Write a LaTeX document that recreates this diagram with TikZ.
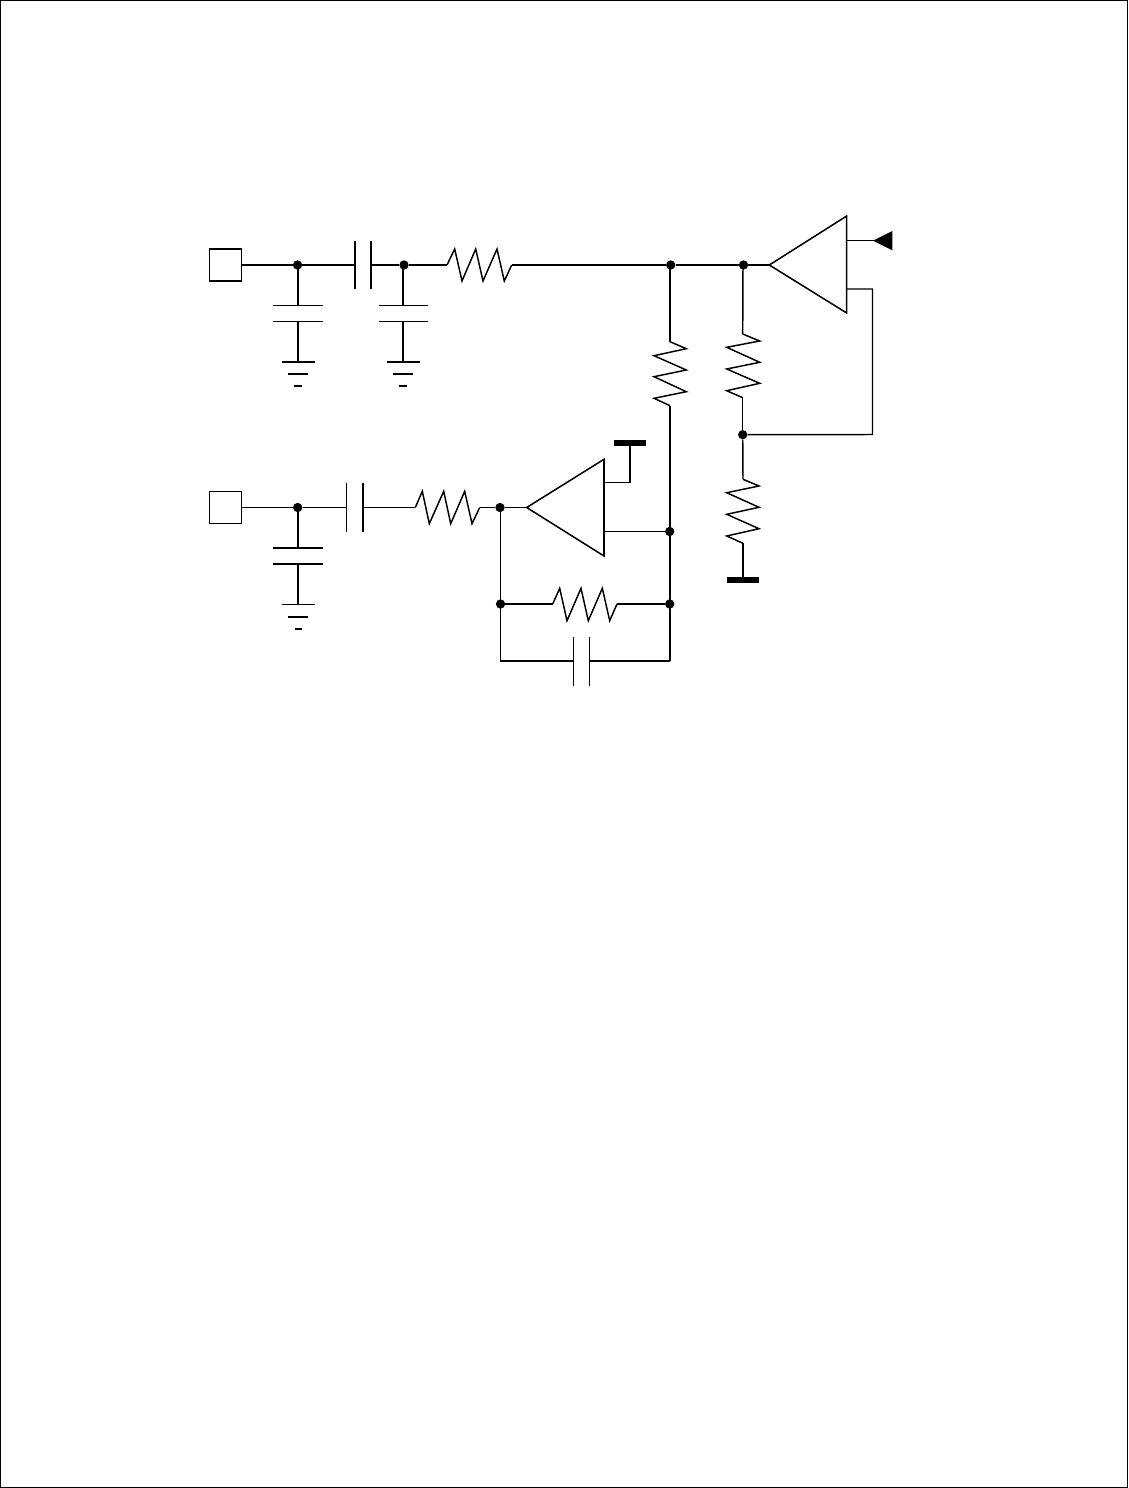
\documentclass[tikz,border=0pt]{standalone}
\tikzset{
  wire/.style={line width=1.1pt,line cap=butt,line join=miter},
  thinwire/.style={line width=0.9pt},
  zig/.style={line width=1.1pt,line join=miter},
  dot/.style={circle,fill=black,draw=none,inner sep=0pt,minimum size=7pt},
  padbox/.style={draw=black,line width=1.2pt,fill=white,inner sep=0pt,minimum size=24.2pt},
  amp/.style={line width=1.15pt,line join=miter},
  railbar/.style={line width=4.4pt},
  gndb/.style={line width=1.4pt},
  gndc/.style={line width=0.9pt},
}
\begin{document}
\begin{tikzpicture}[x=0.75pt,y=-0.75pt]
\useasboundingbox (0,0) rectangle (1128,1488);
\draw[line width=1.1pt] (0.5,0.5) rectangle (1127.5,1487.5);

% pads and junctions
\node[padbox] (p1) at (225.5,265) {};
\node[padbox] (p2) at (225.5,507.5) {};
\node[dot] (j1) at (297.5,265) {};
\node[dot] (j2) at (404,265) {};
\node[dot] (j3) at (670.7,265) {};
\node[dot] (j4) at (743.5,265) {};
\node[dot] (j5) at (742.7,434.7) {};
\node[dot] (j6) at (297.7,507.5) {};
\node[dot] (j7) at (500,507.5) {};
\node[dot] (j8) at (500.5,604) {};
\node[dot] (j9) at (669.7,531.5) {};
\node[dot] (j10) at (669.7,604) {};

% series capacitor C1
\coordinate (c1a) at (355,265); \coordinate (c1b) at (371,265);
\draw[wire] (p1.east) -- (j1) -- (c1a);
\draw[wire] (355,240.5) -- (355,289);
\draw[wire] (371,240.5) -- (371,289);
\draw[wire] (c1b) -- (j2);

% series resistor R1
\coordinate (r1a) at (447,265); \coordinate (r1b) at (511.7,265);
\draw[wire] (j2) -- (r1a);
\draw[zig] (r1a) -- (454.7,249) -- (462,281) -- (475.7,249) -- (483,281) -- (497,249) -- (504.3,281) -- (r1b);
\draw[line width=1.4pt] (r1b) -- (j3) -- (j4);

% shunt cap 1
\coordinate (s1) at (298,305.5); \coordinate (s2) at (298,321.5); \coordinate (g1) at (298,362);
\draw[wire] (298,265) -- (s1);
\draw[wire] (273,305.5) -- (323,305.5);
\draw[wire] (273,321.5) -- (323,321.5);
\draw[wire] (s2) -- (g1);
\draw[gndb] (281.5,362) -- (315,362);
\draw[gndb] (288,374) -- (308,374);
\draw[gndc] (294,386) -- (302,386);

% shunt cap 2
\coordinate (s3) at (403,305.5); \coordinate (s4) at (403,321.5); \coordinate (g2) at (403,362);
\draw[wire] (403,265) -- (s3);
\draw[wire] (378.5,305.5) -- (428,305.5);
\draw[wire] (378.5,321.5) -- (428,321.5);
\draw[wire] (s4) -- (g2);
\draw[gndb] (386.5,362) -- (420,362);
\draw[gndb] (393,374) -- (413,374);
\draw[gndc] (399,386) -- (407,386);

% amplifier 1
\coordinate (a1in) at (769.3,265);
\coordinate (a1o1) at (846.7,240.7);
\coordinate (a1o2) at (846.7,289);
\draw[amp] (a1in) -- (846.7,216) -- (846.7,313) -- cycle;
\draw[wire] (j4) -- (a1in);
\draw[wire] (a1o1) -- (874,240.7);
\fill (873,240.7) -- (892.3,231) -- (892.3,250.3) -- cycle;
\draw[wire] (a1o2) -- (872.5,289) -- (872.5,434.5) -- (j5);

% resistor R2 (670)
\coordinate (r2a) at (670,341.7); \coordinate (r2b) at (670,405.7);
\draw[wire] (670,265) -- (r2a);
\draw[zig] (r2a) -- (686.3,348.7) -- (654,355.7) -- (686.3,370) -- (654,376.7) -- (686.3,391.7) -- (654,398.3) -- (r2b);
\draw[line width=1.3pt] (r2b) -- (670,661);

% resistor R3 (743)
\coordinate (r3a) at (742.7,334); \coordinate (r3b) at (742.7,397.7);
\draw[wire] (743,265) -- (r3a);
\draw[zig] (r3a) -- (759.7,341) -- (726.7,347.3) -- (759.7,362.3) -- (726.7,369) -- (759.7,383.3) -- (726.7,390.7) -- (r3b);
\draw[wire] (r3b) -- (j5);

% resistor R4 (743)
\coordinate (r4a) at (743,479.3); \coordinate (r4b) at (743,543.3); \coordinate (bar1) at (743,580);
\draw[wire] (j5) -- (r4a);
\draw[zig] (r4a) -- (759,486) -- (726.7,492.7) -- (759,507.3) -- (726.7,514.3) -- (759,528.7) -- (726.7,536) -- (r4b);
\draw[wire] (r4b) -- (bar1);
\draw[railbar] (727,580) -- (759,580);

% lower input
\coordinate (c2a) at (346.7,507.5); \coordinate (c2b) at (363,507.5);
\draw[thinwire] (p2.east) -- (j6) -- (c2a);
\draw[wire] (346.7,483.3) -- (346.7,531.7);
\draw[wire] (363,483.3) -- (363,531.7);
\coordinate (r5a) at (415.3,507.5); \coordinate (r5b) at (479.7,507.5);
\draw[wire] (c2b) -- (r5a);
\draw[zig] (r5a) -- (422.3,491.3) -- (429.3,523.7) -- (443.7,491.3) -- (450.7,523.7) -- (464.7,491.3) -- (472,523.7) -- (r5b);
\draw[wire] (r5b) -- (j7);

% shunt cap 3
\coordinate (s5) at (298,548); \coordinate (s6) at (298,564); \coordinate (g3) at (298,604.3);
\draw[wire] (298,507.5) -- (s5);
\draw[thinwire] (273,548) -- (323,548);
\draw[thinwire] (273,564) -- (323,564);
\draw[wire] (s6) -- (g3);
\draw[thinwire] (281.5,604.3) -- (315,604.3);
\draw[gndb] (288,617) -- (308,617);
\draw[gndb] (294.5,629) -- (302,629);

% amplifier 2
\coordinate (a2in) at (526.7,507.5);
\coordinate (a2o1) at (604,482.7);
\coordinate (a2o2) at (604,531.5);
\draw[amp] (a2in) -- (604,459.3) -- (604,556) -- cycle;
\draw[wire] (j7) -- (a2in);
\draw[wire] (a2o1) -- (630,482.7) -- (630,443);
\draw[railbar] (614,443) -- (646,443);
\draw[line width=1.3pt] (a2o2) -- (j9);

% feedback R6
\coordinate (r6a) at (552.7,604); \coordinate (r6b) at (617,604);
\draw[thinwire] (500.5,507.5) -- (500.5,661) -- (573.3,661);
\draw[wire] (j8) -- (r6a);
\draw[zig] (r6a) -- (559.7,588.3) -- (567,620.7) -- (581,588.3) -- (588.3,620.7) -- (602.3,588.3) -- (609.7,620.7) -- (r6b);
\draw[wire] (r6b) -- (j10);

% feedback cap
\draw[wire] (573.3,636.7) -- (573.3,686);
\draw[wire] (589.3,636.7) -- (589.3,686);
\draw[wire] (589.3,661) -- (670,661);
\end{tikzpicture}
\end{document}
